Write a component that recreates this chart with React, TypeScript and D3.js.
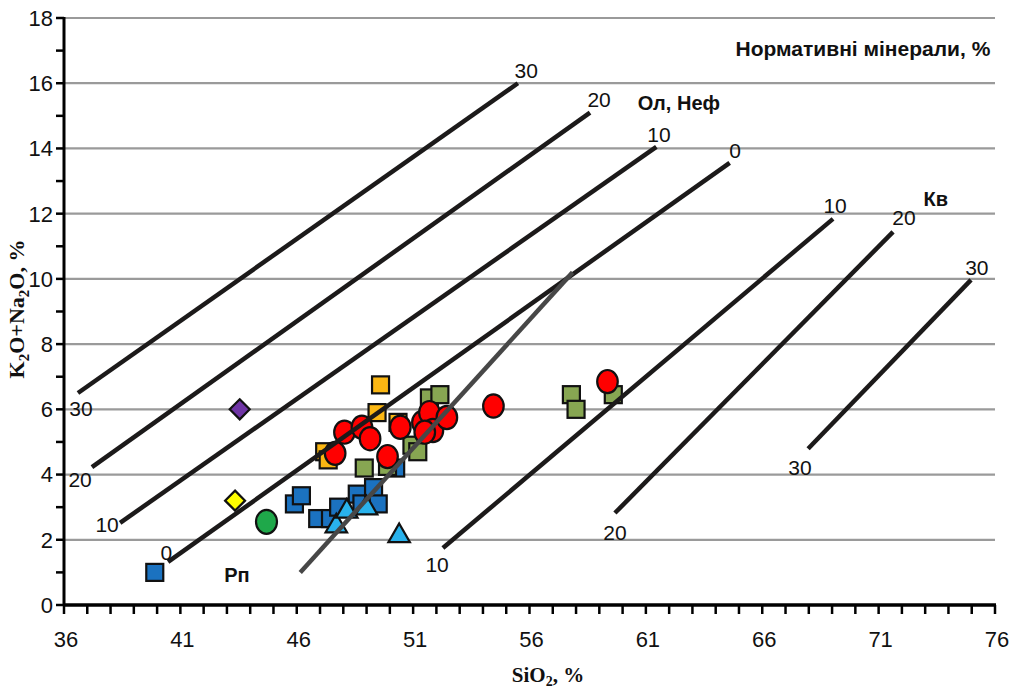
import { useEffect, useRef } from 'react';
import * as d3 from 'd3';

// SiO2, K2O+Na2O (%)
const blueSquares: [number, number][] = [
  [39.9, 1.0], [45.9, 3.1], [46.2, 3.35], [46.9, 2.65], [47.45, 2.65], [47.8, 3.0],
  [48.6, 3.4], [48.8, 3.1], [49.3, 3.6], [49.5, 3.1], [50.25, 4.2],
];
const cyanTriangles: [number, number][] = [
  [47.7, 2.45], [48.15, 2.9], [49.0, 3.0], [50.4, 2.15],
];
const greenSquares: [number, number][] = [
  [48.9, 4.2], [49.9, 4.25], [50.95, 4.9], [51.2, 4.7], [51.7, 6.35], [52.15, 6.45],
  [57.8, 6.45], [58.0, 6.0], [59.6, 6.45],
];
const orangeSquares: [number, number][] = [
  [49.6, 6.75], [49.45, 5.9], [47.2, 4.7], [47.35, 4.45], [50.35, 5.6],
];
const redCircles: [number, number][] = [
  [47.65, 4.65], [48.05, 5.3], [48.8, 5.45], [49.15, 5.1], [49.9, 4.55], [50.45, 5.45],
  [51.4, 5.6], [51.7, 5.9], [51.85, 5.35], [52.45, 5.75], [51.5, 5.3], [54.45, 6.1],
  [59.35, 6.85],
];
const purpleDiamonds: [number, number][] = [[43.55, 6.0]];
const yellowDiamonds: [number, number][] = [[43.35, 3.2]];
const greenCircles: [number, number][] = [[44.7, 2.55]];

// normative mineral isolines: label, start, end, label at end (ex, ey), label at start (sx, sy)
const isoLines = [
  { label: '30', x1: 36.6, y1: 6.5, x2: 55.5, y2: 16.0, ex: 55.86, ey: 16.17, sx: 36.73, sy: 5.8 },
  { label: '20', x1: 37.2, y1: 4.23, x2: 58.6, y2: 15.1, ex: 58.99, ey: 15.28, sx: 36.69, sy: 3.62 },
  { label: '10', x1: 38.41, y1: 2.52, x2: 61.45, y2: 14.05, ex: 61.56, ey: 14.2, sx: 37.85, sy: 2.24 },
  { label: '0', x1: 40.47, y1: 1.32, x2: 64.6, y2: 13.56, ex: 64.83, ey: 13.71, sx: 40.4, sy: 1.38 },
  { label: '10', x1: 52.28, y1: 1.75, x2: 69.04, y2: 11.84, ex: 69.13, ey: 12.02, sx: 52.03, sy: 1.01 },
  { label: '20', x1: 59.67, y1: 2.82, x2: 71.62, y2: 11.44, ex: 72.09, ey: 11.66, sx: 59.67, sy: 1.99 },
  { label: '30', x1: 67.97, y1: 4.79, x2: 74.97, y2: 9.97, ex: 75.22, ey: 10.12, sx: 67.62, sy: 3.99 },
];
const rpLine = { x1: 46.15, y1: 1.0, x2: 57.85, y2: 10.2 };
const textLabels = [
  { text: 'Нормативні мінерали, %', x: 75.8, y: 16.85, anchor: 'end', size: 21 },
  { text: 'Ол, Неф', x: 62.42, y: 15.18, anchor: 'middle', size: 20 },
  { text: 'Кв', x: 73.46, y: 12.24, anchor: 'middle', size: 20 },
  { text: 'Рп', x: 43.43, y: 0.7, anchor: 'middle', size: 20 },
];

const xTicks = [36, 41, 46, 51, 56, 61, 66, 71, 76];
const yTicks = [0, 2, 4, 6, 8, 10, 12, 14, 16, 18];

export default function App() {
  const ref = useRef<SVGSVGElement>(null);

  useEffect(() => {
    if (!ref.current) return;
    const svg = d3.select(ref.current);
    svg.selectAll('*').remove();

    const x = d3.scaleLinear().domain([36, 76]).range([64, 995]);
    const y = d3.scaleLinear().domain([0, 18]).range([605, 18]);
    const sans = '"Liberation Sans", Arial, sans-serif';
    const serif = '"Liberation Serif", "Times New Roman", serif';

    // grid
    svg.append('g')
      .selectAll('line')
      .data(yTicks.filter(d => d > 0))
      .join('line')
      .attr('x1', x(36)).attr('x2', x(76))
      .attr('y1', d => y(d)).attr('y2', d => y(d))
      .attr('stroke', '#9a9a9a')
      .attr('stroke-width', 2.2);

    const pts = svg.append('g').attr('stroke', '#111').attr('stroke-width', 2.2);

    const squares = (data: [number, number][], fill: string, s = 17) =>
      pts.append('g').selectAll('rect').data(data).join('rect')
        .attr('x', d => x(d[0]) - s / 2).attr('y', d => y(d[1]) - s / 2)
        .attr('width', s).attr('height', s).attr('fill', fill);

    squares(blueSquares, '#1b72c0');
    pts.append('g').selectAll('path').data(cyanTriangles).join('path')
      .attr('d', d3.symbol(d3.symbolTriangle, 200))
      .attr('transform', d => `translate(${x(d[0])},${y(d[1]) + 1})`)
      .attr('fill', '#29b2ec');
    squares(greenSquares, '#87a652');
    squares(orangeSquares, '#fbb713');
    pts.append('g').selectAll('ellipse').data(redCircles).join('ellipse')
      .attr('cx', d => x(d[0])).attr('cy', d => y(d[1]))
      .attr('rx', 10.3).attr('ry', 11.6).attr('fill', '#ff0000');

    const diamonds = (data: [number, number][], fill: string) =>
      pts.append('g').selectAll('path').data(data).join('path')
        .attr('d', 'M0,-10L10,0L0,10L-10,0Z')
        .attr('transform', d => `translate(${x(d[0])},${y(d[1])})`)
        .attr('fill', fill);
    diamonds(purpleDiamonds, '#6f35a5');
    diamonds(yellowDiamonds, '#ffff00');
    pts.append('g').selectAll('ellipse').data(greenCircles).join('ellipse')
      .attr('cx', d => x(d[0])).attr('cy', d => y(d[1]))
      .attr('rx', 10.5).attr('ry', 12).attr('fill', '#1fa84a');

    // isolines
    svg.append('g').selectAll('line').data(isoLines).join('line')
      .attr('x1', d => x(d.x1)).attr('y1', d => y(d.y1))
      .attr('x2', d => x(d.x2)).attr('y2', d => y(d.y2))
      .attr('stroke', '#1c1a1a').attr('stroke-width', 4.5);
    svg.append('line')
      .attr('x1', x(rpLine.x1)).attr('y1', y(rpLine.y1))
      .attr('x2', x(rpLine.x2)).attr('y2', y(rpLine.y2))
      .attr('stroke', '#474747').attr('stroke-width', 4.5);

    const lab = svg.append('g')
      .attr('font-family', sans)
      .attr('font-size', 21).attr('fill', '#111').attr('text-anchor', 'middle');
    lab.selectAll('text.e').data(isoLines).join('text').attr('class', 'e')
      .attr('x', d => x(d.ex)).attr('y', d => y(d.ey)).text(d => d.label);
    lab.selectAll('text.s').data(isoLines).join('text').attr('class', 's')
      .attr('x', d => x(d.sx)).attr('y', d => y(d.sy)).text(d => d.label);

    svg.append('g')
      .attr('font-family', sans)
      .attr('font-weight', 'bold').attr('fill', '#111')
      .selectAll('text').data(textLabels).join('text')
      .attr('x', d => x(d.x)).attr('y', d => y(d.y))
      .attr('font-size', d => d.size)
      .attr('text-anchor', d => d.anchor).text(d => d.text);

    // axes
    const axes = svg.append('g').attr('stroke', '#000');
    axes.append('line').attr('x1', x(36)).attr('x2', x(36)).attr('y1', y(18) - 1).attr('y2', y(0))
      .attr('stroke-width', 3);
    axes.append('line').attr('x1', x(36) - 1).attr('x2', x(76) + 1).attr('y1', y(0)).attr('y2', y(0))
      .attr('stroke-width', 3.5);
    axes.selectAll('line.xt').data(d3.range(36, 77)).join('line').attr('class', 'xt')
      .attr('x1', d => x(d)).attr('x2', d => x(d)).attr('y1', y(0)).attr('y2', y(0) + 9)
      .attr('stroke-width', 2.5);
    axes.selectAll('line.yt').data(d3.range(0, 19)).join('line').attr('class', 'yt')
      .attr('x1', x(36) - 8).attr('x2', x(36))
      .attr('y1', d => y(d)).attr('y2', d => y(d))
      .attr('stroke-width', 2.5);

    svg.append('g').attr('font-family', sans).attr('font-size', 22).attr('fill', '#111')
      .attr('text-anchor', 'end')
      .selectAll('text').data(yTicks).join('text')
      .attr('x', x(36) - 11).attr('y', d => y(d)).attr('dy', '0.36em').text(d => d);
    svg.append('g').attr('font-family', sans).attr('font-size', 22).attr('fill', '#111')
      .attr('text-anchor', 'middle')
      .selectAll('text').data(xTicks).join('text')
      .attr('x', d => x(d) + 2).attr('y', y(0) + 42).text(d => d);

    // axis titles
    const xt = svg.append('text').attr('x', 548).attr('y', 682)
      .attr('text-anchor', 'middle').attr('font-family', serif)
      .attr('font-size', 21).attr('font-weight', 'bold').attr('fill', '#111');
    xt.append('tspan').text('SiO');
    xt.append('tspan').attr('font-size', 14).attr('dy', 4).text('2');
    xt.append('tspan').attr('dy', -4).text(', %');

    const yt = svg.append('text').attr('transform', `translate(24,309) rotate(-90)`)
      .attr('text-anchor', 'middle').attr('font-family', serif)
      .attr('font-size', 22).attr('font-weight', 'bold').attr('fill', '#111');
    yt.append('tspan').text('K');
    yt.append('tspan').attr('font-size', 15).attr('dy', 5).text('2');
    yt.append('tspan').attr('dy', -5).text('O+Na');
    yt.append('tspan').attr('font-size', 15).attr('dy', 5).text('2');
    yt.append('tspan').attr('dy', -5).text('O, %');
  }, []);

  return (
    <svg ref={ref} width={1017} height={690}
      style={{ position: 'absolute', left: 0, top: 0, background: '#fff' }} />
  );
}
